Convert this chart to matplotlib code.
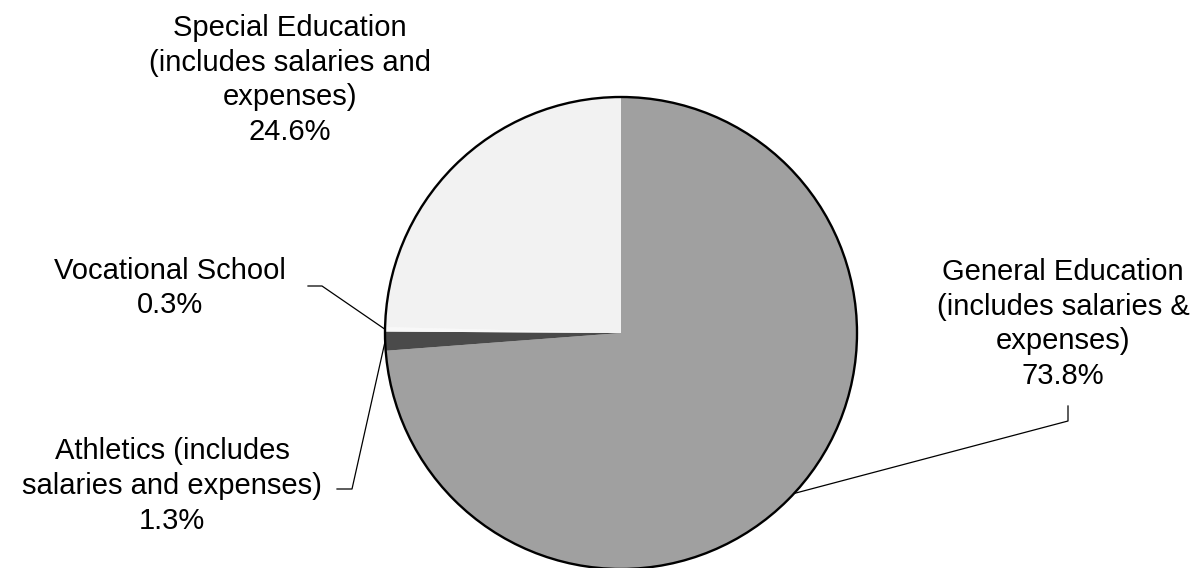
import numpy as np
import matplotlib
matplotlib.use("Agg")
import matplotlib.pyplot as plt

# Data
categories = ["General Education\n(includes salaries &\nexpenses)",
              "Athletics (includes\nsalaries and expenses)",
              "Vocational School",
              "Special Education\n(includes salaries and\nexpenses)"]
shares = [73.8, 1.3, 0.3, 24.6]
colors = ["#a0a0a0", "#4a4a4a", "#f8f8f8", "#f2f2f2"]

W, H = 1194, 568
fig = plt.figure(figsize=(W / 100, H / 100), dpi=100)
ax = fig.add_axes([0, 0, 1, 1])

cx, cy, r = 621, H - 333, 236
wedges, _ = ax.pie(shares, colors=colors, startangle=90, counterclock=False,
                   center=(cx, cy), radius=r, frame=True,
                   wedgeprops=dict(linewidth=0))
ax.add_patch(plt.Circle((cx, cy), r, fill=False, edgecolor="black", lw=1.7, zorder=5))
ax.set_xlim(0, W)
ax.set_ylim(0, H)
ax.set_aspect("equal")
ax.axis("off")

plt.rcParams['font.family'] = ['Liberation Sans', 'DejaVu Sans']

# label layout: (text center x, text center y in px from top, elbow point, end point)
layout = [
    dict(tx=1063, ty=324, pts=[(1068, 406), (1068, 421)]),
    dict(tx=172, ty=486, pts=[(337, 489), (352, 489)]),
    dict(tx=170, ty=288, pts=[(308, 286), (322, 286)]),
    dict(tx=290, ty=80, pts=None),
]

for w, cat, val, lay in zip(wedges, categories, shares, layout):
    ax.text(lay["tx"], H - lay["ty"], f"{cat}\n{val:.1f}%", ha="center", va="center",
            fontsize=21, linespacing=1.3, color="black")
    if lay["pts"]:
        mid = np.deg2rad((w.theta1 + w.theta2) / 2)
        ax_pt = (cx + r * np.cos(mid), cy + r * np.sin(mid))
        p1, p2 = lay["pts"]
        xs = [p1[0], p2[0], ax_pt[0]]
        ys = [H - p1[1], H - p2[1], ax_pt[1]]
        ax.plot(xs, ys, color="black", lw=0.9, zorder=6)

fig.savefig("out.png", dpi=100)
